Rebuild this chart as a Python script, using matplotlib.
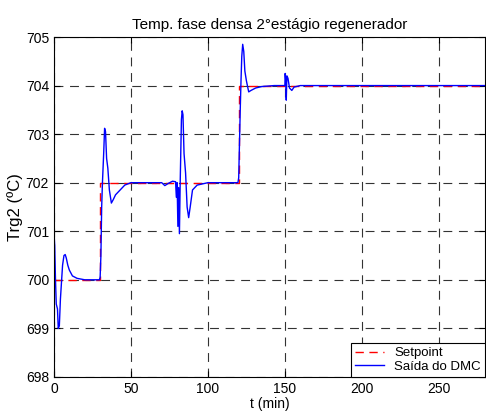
import matplotlib
matplotlib.use('Agg')
import matplotlib.pyplot as plt

plt.rcParams['font.family'] = ['Liberation Sans', 'DejaVu Sans']
plt.rcParams['font.size'] = 10
plt.rcParams['xtick.direction'] = 'in'
plt.rcParams['ytick.direction'] = 'in'

# setpoint
sp_t = [0, 30, 30, 120, 120, 280]
sp_y = [700, 700, 702, 702, 704, 704]

# saida do DMC
dmc_t = [0, 0.5, 1.0, 1.5, 2.3, 2.8, 3.5, 4.2, 5.0, 5.6, 6.5, 7.3, 8.0, 9, 10, 12, 15, 20,
         29.5, 30.0, 30.5, 31.0, 31.5, 32.3, 32.9, 33.5, 34.2, 35, 36, 37.3, 38.5, 40, 43, 46, 50,
         70, 72, 74, 77, 79, 79.5, 80, 80.5, 81, 81.5, 82, 82.8, 83.3, 83.8, 84.5, 85.5, 86.5,
         87.5, 88.5, 90, 93, 100,
         119.5, 120, 120.5, 121, 121.5, 122, 122.6, 123.3, 124, 125, 126.5, 128, 131, 135, 143,
         150, 150.2, 150.6, 150.9, 151.3, 152, 153, 154.5, 156, 160, 280]
dmc_y = [701.0, 700.7, 700.0, 699.5, 699.4, 699.0, 699.05, 699.6, 700.0, 700.3, 700.5, 700.52,
         700.45, 700.3, 700.2, 700.08, 700.03, 700.0,
         700.0, 700.05, 700.5, 701.5, 702.0, 702.6, 703.12, 703.05, 702.5, 702.3, 701.85, 701.58,
         701.65, 701.75, 701.85, 701.95, 702.0,
         702.0, 701.94, 701.98, 702.03, 702.02, 701.7, 702.0, 701.1, 701.9, 700.95, 702.0, 703.3,
         703.48, 703.4, 702.6, 702.2, 701.5, 701.28, 701.5, 701.85, 701.95, 702.0,
         702.0, 702.1, 702.8, 703.5, 704.1, 704.6, 704.85, 704.7, 704.3, 704.1, 703.87, 703.9,
         703.95, 703.98, 704.0,
         704.0, 704.25, 704.1, 703.7, 704.2, 704.15, 703.95, 703.9, 703.97, 704.0, 704.0]

fig = plt.figure(figsize=(4.86, 4.16), dpi=100)
ax = fig.add_axes([0.111, 0.094, 0.887, 0.817])

ax.plot(sp_t, sp_y, color='red', linestyle=(0, (6, 4)), linewidth=1.0, label='Setpoint')
ax.plot(dmc_t, dmc_y, color='blue', linewidth=1.0, label='Saída do DMC')

ax.set_xlim(0, 280)
ax.set_ylim(698, 705)
ax.set_xticks([0, 50, 100, 150, 200, 250])
ax.set_yticks(range(698, 706))
ax.tick_params(top=True, right=True, length=4, width=0.8)
ax.grid(True, color='0.2', linestyle=(0, (8, 6)), linewidth=0.8)

ax.set_title('Temp. fase densa 2°estágio regenerador', fontsize=11)
ax.set_xlabel('t (min)', fontsize=10, labelpad=1)
ax.set_ylabel('Trg2 (ºC)', fontsize=12, labelpad=2)

leg = ax.legend(loc='lower right', fontsize=9.5, fancybox=False, framealpha=1,
                edgecolor='black', borderaxespad=0, handlelength=2.2,
                borderpad=0.3, labelspacing=0.1)
leg.get_frame().set_linewidth(0.8)

fig.savefig('out.png', dpi=100)
